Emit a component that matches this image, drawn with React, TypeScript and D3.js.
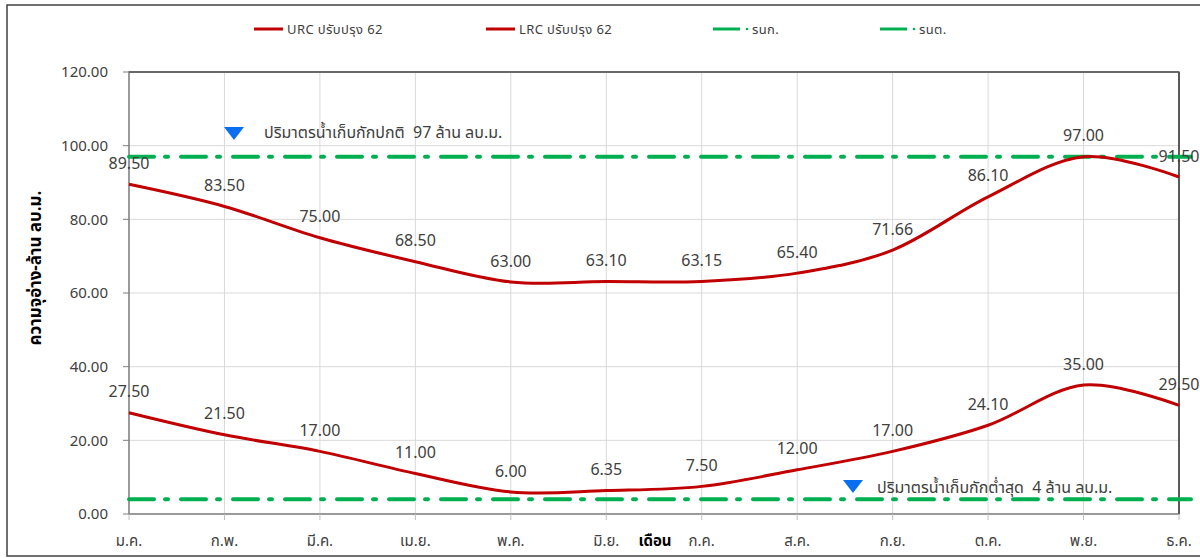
import React from "react";
import * as d3 from "d3";

const months = ["ม.ค.", "ก.พ.", "มี.ค.", "เม.ย.", "พ.ค.", "มิ.ย.", "ก.ค.", "ส.ค.", "ก.ย.", "ต.ค.", "พ.ย.", "ธ.ค."];
const urc = [89.5, 83.5, 75.0, 68.5, 63.0, 63.1, 63.15, 65.4, 71.66, 86.1, 97.0, 91.5];
const lrc = [27.5, 21.5, 17.0, 11.0, 6.0, 6.35, 7.5, 12.0, 17.0, 24.1, 35.0, 29.5];
const normalLevel = 97;
const minLevel = 4;
const yTicks = [0, 20, 40, 60, 80, 100, 120];

const FONT = "Tahoma, 'Noto Sans Thai', 'Noto Sans', 'DejaVu Sans', sans-serif";
const RED = "#C00000";
const GREEN = "#00B050";
const BLUE = "#0A6EF0";
const TXT = "#404040";

export default function App() {
  const W = 1200, H = 558;
  const left = 129, right = 1179, top = 72, bottom = 514;
  const x = d3.scalePoint<string>().domain(months).range([left, right]);
  const y = d3.scaleLinear().domain([0, 120]).range([bottom, top]);
  const line = d3
    .line<number>()
    .x((_, i) => x(months[i]) as number)
    .y((d) => y(d))
    .curve(d3.curveCatmullRom.alpha(0));
  const dash = "25,11,3,13";

  const fmt = (v: number) => v.toFixed(2);

  return (
    <svg width={W} height={H} style={{ position: "absolute", left: 0, top: 0, fontFamily: FONT }}>
      <rect x={0} y={0} width={W} height={H} fill="#fff" />
      <rect x={7} y={5} width={1200} height={551} fill="none" stroke="#404040" strokeWidth={1.5} />

      {/* gridlines */}
      {yTicks.map((t) => (
        <line key={"h" + t} x1={left} x2={right} y1={y(t)} y2={y(t)} stroke="#D9D9D9" strokeWidth={1} />
      ))}
      {months.map((m) => (
        <line key={"v" + m} x1={x(m)} x2={x(m)} y1={top} y2={bottom} stroke="#D9D9D9" strokeWidth={1} />
      ))}

      {/* plot border */}
      <rect x={left} y={top} width={right - left} height={bottom - top} fill="none" stroke="#7F7F7F" strokeWidth={1.5} />
      <line x1={right} x2={right} y1={top} y2={bottom} stroke="#595959" strokeWidth={2} />
      <line x1={left} x2={right} y1={top} y2={top} stroke="#595959" strokeWidth={1.5} />

      {/* ticks */}
      {yTicks.map((t) => (
        <g key={"yt" + t}>
          <line x1={left - 6} x2={left} y1={y(t)} y2={y(t)} stroke="#7F7F7F" />
          <text x={108} y={y(t)} dy="0.35em" textAnchor="end" fontSize={15} fill={TXT}>
            {fmt(t)}
          </text>
        </g>
      ))}
      {months.map((m) => (
        <g key={"xt" + m}>
          <line x1={x(m)} x2={x(m)} y1={bottom} y2={bottom + 6} stroke="#BFBFBF" />
          <text x={x(m)} y={546} textAnchor="middle" fontSize={15} fill={TXT}>
            {m}
          </text>
        </g>
      ))}
      <text x={655} y={546} textAnchor="middle" fontSize={15} fontWeight="bold" fill="#000">
        เดือน
      </text>
      <text
        transform={`translate(41,${268}) rotate(-90)`}
        textAnchor="middle"
        fontSize={17}
        fontWeight="bold"
        fill="#000"
      >
        ความจุอ่าง-ล้าน ลบ.ม.
      </text>

      {/* level lines */}
      <line x1={left} x2={right + 12} y1={y(normalLevel)} y2={y(normalLevel)} stroke={GREEN} strokeWidth={4} strokeDasharray={dash} strokeLinecap="round" />
      <line x1={left} x2={right + 12} y1={y(minLevel)} y2={y(minLevel)} stroke={GREEN} strokeWidth={4} strokeDasharray={dash} strokeLinecap="round" />

      {/* series */}
      <path d={line(urc) || ""} fill="none" stroke={RED} strokeWidth={3} />
      <path d={line(lrc) || ""} fill="none" stroke={RED} strokeWidth={3} />

      {/* data labels */}
      {urc.map((v, i) => (
        <text key={"lu" + i} x={x(months[i])} y={y(v) - 21} dy="0.35em" textAnchor="middle" fontSize={16} fill={TXT}>
          {fmt(v)}
        </text>
      ))}
      {lrc.map((v, i) => (
        <text key={"ll" + i} x={x(months[i])} y={y(v) - 21} dy="0.35em" textAnchor="middle" fontSize={16} fill={TXT}>
          {fmt(v)}
        </text>
      ))}

      {/* annotations */}
      <path d="M224,127 L244,127 L234,140 Z" fill={BLUE} />
      <text x={264} y={138} fontSize={16} fill={TXT} style={{ whiteSpace: "pre" }}>
        {"ปริมาตรน้ำเก็บกักปกติ  97 ล้าน ลบ.ม."}
      </text>
      <path d="M843,480 L863,480 L853,493 Z" fill={BLUE} />
      <text x={877} y={493} fontSize={16} fill={TXT} style={{ whiteSpace: "pre" }}>
        {"ปริมาตรน้ำเก็บกักต่ำสุด  4 ล้าน ลบ.ม."}
      </text>

      {/* legend */}
      <g fontSize={13} fill={TXT} letterSpacing={0.4}>
        <line x1={254} x2={283} y1={29} y2={29} stroke={RED} strokeWidth={3} />
        <text x={287} y={29} dy="0.35em">URC ปรับปรุง 62</text>
        <line x1={486} x2={515} y1={29} y2={29} stroke={RED} strokeWidth={3} />
        <text x={519} y={29} dy="0.35em">LRC ปรับปรุง 62</text>
        <line x1={713} x2={740} y1={29} y2={29} stroke={GREEN} strokeWidth={3} />
        <circle cx={747} cy={29} r={1.3} fill={GREEN} />
        <text x={752} y={29} dy="0.35em">รนก.</text>
        <line x1={880} x2={907} y1={29} y2={29} stroke={GREEN} strokeWidth={3} />
        <circle cx={914} cy={29} r={1.3} fill={GREEN} />
        <text x={919} y={29} dy="0.35em">รนต.</text>
      </g>
    </svg>
  );
}
